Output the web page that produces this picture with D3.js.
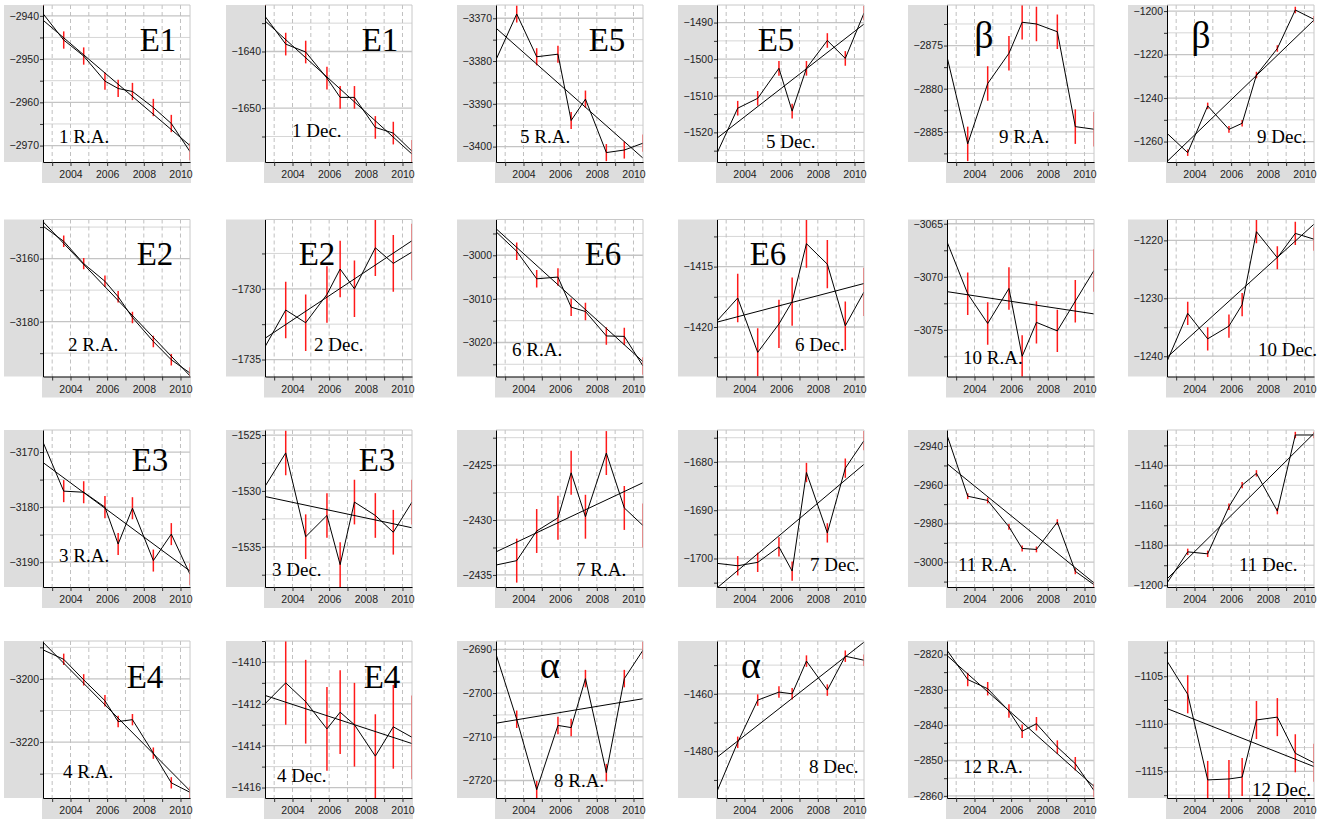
<!DOCTYPE html>
<html><head><meta charset="utf-8">
<script src="https://cdn.jsdelivr.net/npm/d3@7"></script>
<style>body{margin:0;background:#fff}</style>
</head><body>
<svg id="c" width="1334" height="820"></svg>
<script>
// ---------- DATA ----------
const epochs = [2002.5, 2003.63, 2004.72, 2005.88, 2006.6, 2007.38, 2008.52, 2009.5, 2010.52];
const yearTicks = [2003, 2004, 2005, 2006, 2007, 2008, 2009, 2010];
const yearLabels = [2004, 2006, 2008, 2010];

const panelNames = ["1 R.A.","1 Dec.","5 R.A.","5 Dec.","9 R.A.","9 Dec.",
                    "2 R.A.","2 Dec.","6 R.A.","6 Dec.","10 R.A.","10 Dec.",
                    "3 R.A.","3 Dec.","7 R.A.","7 Dec.","11 R.A.","11 Dec.",
                    "4 R.A.","4 Dec.","8 R.A.","8 Dec.","12 R.A.","12 Dec."];
const starNames = ["E1","E1","E5","E5","β","β",
                   "E2","E2","E6","E6","","",
                   "E3","E3","","","","",
                   "E4","E4","α","α","",""];

const ra1  = [-2939.5,-2945.6,-2949.3,-2955.1,-2956.8,-2957.5,-2961.2,-2964.9,-2971.4];
const dec1 = [-1633.8,-1638.7,-1640.1,-1644.7,-1648.1,-1648.1,-1653.4,-1654.4,-1657.6];
const ra5  = [-3379.7,-3369.0,-3379.0,-3378.4,-3393.9,-3388.9,-3401.4,-3400.8,-3399.2];
const dec5 = [-1525.7,-1513.4,-1510.7,-1502.5,-1514.2,-1502.5,-1494.9,-1499.8,-1487.4];
const ra9  = [-2876.3,-2886.4,-2879.4,-2875.9,-2872.3,-2872.5,-2873.4,-2884.4,-2884.7];
const dec9 = [-1256.2,-1265.1,-1243.6,-1254.4,-1251.6,-1229.4,-1217.2,-1199.5,-1203.8];
const ra2  = [-3149.7,-3154.5,-3161.6,-3167.2,-3172.1,-3178.7,-3186.3,-3192.1,-3196.3];
const dec2 = [-1734.1,-1731.5,-1732.4,-1730.4,-1728.6,-1730.0,-1727.1,-1728.2,-1727.4];
const ra6  = [-2994.6,-2999.1,-3005.4,-3005.0,-3011.9,-3012.9,-3018.5,-3018.6,-3025.4];
const dec6 = [-1419.5,-1417.6,-1422.1,-1419.75,-1417.9,-1413.1,-1414.8,-1419.9,-1417.1];
const ra10 = [-3066.7,-3071.6,-3074.4,-3071.1,-3077.5,-3074.3,-3075.1,-3072.3,-3069.4];
const dec10= [-1240.9,-1232.6,-1237.0,-1234.8,-1231.1,-1218.5,-1223.0,-1218.8,-1219.8];
const ra3  = [-3168.2,-3177.1,-3177.3,-3180.0,-3186.7,-3180.2,-3189.7,-3184.9,-3192.2];
const dec3 = [-1529.6,-1526.6,-1534.1,-1532.2,-1536.6,-1531.0,-1532.2,-1533.7,-1531.0];
const ra7  = [-2434.1,-2433.7,-2431.0,-2429.8,-2425.7,-2429.7,-2423.9,-2428.9,-2430.5];
const dec7 = [-1701.0,-1701.5,-1700.8,-1697.6,-1702.6,-1682.2,-1694.7,-1681.3,-1675.6];
const ra11 = [-2934.3,-2965.9,-2968.1,-2981.7,-2992.9,-2993.4,-2979.3,-3004.7,-3011.6];
const dec11= [-1198.9,-1183.3,-1184.3,-1160.7,-1149.9,-1144.0,-1162.9,-1124.8,-1124.8];
const ra4  = [-3190.8,-3193.8,-3200.3,-3206.9,-3213.5,-3212.9,-3223.5,-3232.9,-3235.9];
const dec4 = [-1412.0,-1411.0,-1411.9,-1413.2,-1412.4,-1413.0,-1414.5,-1413.1,-1413.6];
const ra8  = [-2691.1,-2706.0,-2722.1,-2707.4,-2707.9,-2696.7,-2718.2,-2696.7,-2690.2];
const dec8 = [-1494.0,-1476.9,-1462.2,-1459.4,-1460.0,-1448.6,-1458.7,-1446.9,-1448.3];
const ra12 = [-2818.8,-2827.1,-2829.7,-2836.0,-2841.7,-2839.6,-2846.2,-2850.9,-2858.5];
const dec12= [-1103.4,-1106.9,-1115.9,-1115.8,-1115.6,-1109.6,-1109.3,-1113.1,-1114.1];

const series = [ra1,dec1,ra5,dec5,ra9,dec9, ra2,dec2,ra6,dec6,ra10,dec10,
                ra3,dec3,ra7,dec7,ra11,dec11, ra4,dec4,ra8,dec8,ra12,dec12];

// linear fit: value at first and last epoch
const fitEnds = [
 [-2941,-2970],[-1634.6,-1658.1],[-3372.3,-3402.7],[-1521.6,-1490.4],null,[-1269.2,-1204.1],
 [-3148.3,-3197.2],[-1733.5,-1726.6],[-2993.9,-3024.4],[-1419.6,-1416.4],[-3071.4,-3073.5],[-1240.2,-1217.2],
 [-3171.9,-3191.6],[-1530.5,-1533.3],[-2432.9,-2426.6],[-1706.1,-1680.5],[-2949.1,-3010.7],[-1196.9,-1124.0],
 [-3188.4,-3235.4],[-1411.6,-1413.9],[-2706.9,-2701.3],[-1482.1,-1442.0],[-2820.3,-2857.3],[-1108.4,-1114.5]];

const errHalf = [2,2,2,2,2,1.5, 1.8,2,2,2,2,2, 2,2,2,2,1.5,1.6, 1.8,2,2,2,1.9,2];

const yDomains = [
 [-2973.8,-2937.5],[-1659.5,-1631.8],[-3403.6,-3366.9],[-1528.1,-1485.2],[-2888.5,-2870.3],[-1269.4,-1197.2],
 [-3197.4,-3147.6],[-1736.2,-1725.1],[-3027.8,-2991.8],[-1424.1,-1411.1],[-3079.4,-3064.6],[-1243.5,-1216.4],
 [-3194.5,-3166.0],[-1538.6,-1524.55],[-2436.1,-2421.8],[-1705.9,-1673.4],[-3012.8,-2931.7],[-1200.9,-1122.3],
 [-3237.7,-3188.0],[-1416.5,-1409.0],[-2724.0,-2688.1],[-1496.3,-1441.6],[-2860.6,-2816.2],[-1117.8,-1101.3]];

const yTickStep = [10,10,10,10,5,20, 20,5,10,5,5,10, 10,5,5,10,20,20, 20,2,10,20,10,5];

// ---------- LAYOUT ----------
const colLeft = [43, 265, 496, 717, 947, 1167];
const rowTop = [5, 219.5, 430, 641];
const W = 147, H = 157, YBAND = 39, XBAND = 21;
const starPos = [[115,46],[115,46],[111,46],[59,46],[37,43],[34,43],
                 [112,45],[52,45],[107,45],[51,45],[0,0],[0,0],
                 [107,41],[112,41],[0,0],[0,0],[0,0],[0,0],
                 [102,47],[117,47],[54,37],[34,37],[0,0],[0,0]];
const namePos = [[16,138],[27,132],[24,138],[49,143],[52,138],[90,138],
                 [25,131],[49,131],[16,136],[78,131],[16,144],[91,136],
                 [16,132],[7,146],[80,146],[93,141],[11,141],[72,141],
                 [20,137],[12,141],[58,146],[92,132],[16,132],[85,155]];

const svg = d3.select("#c");
const defs = svg.append("defs");
const fmt = d3.format("d");
const serif = "'Liberation Serif', 'Times New Roman', serif";

series.forEach((vals, i) => {
  const r = Math.floor(i / 6), c = i % 6;
  const L = colLeft[c], T = rowTop[r];
  const g = svg.append("g");

  g.append("rect").attr("x", L - YBAND).attr("y", T).attr("width", YBAND).attr("height", H).attr("fill", "#dddddd");
  g.append("rect").attr("x", L - 1).attr("y", T + H).attr("width", W + 2).attr("height", XBAND).attr("fill", "#dddddd");
  g.append("rect").attr("x", L).attr("y", T).attr("width", W).attr("height", H).attr("fill", "#fff");

  const x = d3.scaleLinear().domain([epochs[0], epochs[epochs.length - 1]]).range([L, L + W]);
  const y = d3.scaleLinear().domain(yDomains[i]).range([T + H, T]);

  const step = yTickStep[i], minor = step / 2;
  const [lo, hi] = yDomains[i];
  const minorVals = d3.range(Math.ceil(lo / minor - 1e-9) * minor, hi + 1e-9, minor);
  const isMajor = v => Math.abs(v / step - Math.round(v / step)) < 1e-6;

  const cid = "clip" + i;
  defs.append("clipPath").attr("id", cid).append("rect").attr("x", L).attr("y", T).attr("width", W).attr("height", H);
  const pg = g.append("g").attr("clip-path", `url(#${cid})`);

  // grid
  pg.selectAll(".hg").data(minorVals).join("line")
    .attr("x1", L).attr("x2", L + W).attr("y1", d => y(d)).attr("y2", d => y(d))
    .attr("stroke", d => isMajor(d) ? "#c4c4c4" : "#d6d6d6").attr("stroke-width", d => isMajor(d) ? 1.3 : 1);
  pg.selectAll(".vg").data(yearTicks).join("line")
    .attr("x1", d => x(d)).attr("x2", d => x(d)).attr("y1", T).attr("y2", T + H)
    .attr("stroke", "#c0c0c0").attr("stroke-width", 1).attr("stroke-dasharray", "4,3");

  // error bars
  const e = errHalf[i];
  pg.selectAll(".eb").data(vals).join("line")
    .attr("x1", (d, k) => x(epochs[k])).attr("x2", (d, k) => x(epochs[k]))
    .attr("y1", d => y(d - e)).attr("y2", d => y(d + e))
    .attr("stroke", "#ff1a1a").attr("stroke-width", 1.5);

  // fit line
  if (fitEnds[i]) {
    pg.append("line")
      .attr("x1", x(epochs[0])).attr("x2", x(epochs[epochs.length - 1]))
      .attr("y1", y(fitEnds[i][0])).attr("y2", y(fitEnds[i][1]))
      .attr("stroke", "#000").attr("stroke-width", 1);
  }
  // polyline
  pg.append("path").datum(vals)
    .attr("d", d3.line().x((d, k) => x(epochs[k])).y(d => y(d)))
    .attr("fill", "none").attr("stroke", "#000").attr("stroke-width", 1);

  // border top/right
  g.append("path").attr("d", `M${L},${T}H${L + W}V${T + H}`).attr("fill", "none").attr("stroke", "#c8c8c8");

  // axes
  const ya = g.append("g").attr("transform", `translate(${L},0)`)
    .call(d3.axisLeft(y).tickValues(minorVals).tickSize(3).tickPadding(1).tickSizeOuter(0)
      .tickFormat(d => isMajor(d) ? fmt(d) : ""));
  const xa = g.append("g").attr("transform", `translate(0,${T + H})`)
    .call(d3.axisBottom(x).tickValues(yearTicks).tickSize(4).tickPadding(5).tickSizeOuter(0)
      .tickFormat(d => yearLabels.includes(d) ? String(d) : ""));
  [ya, xa].forEach(a => {
    a.selectAll("text").attr("font-family", "'Liberation Sans', Arial, sans-serif").attr("font-size", 10.5).attr("fill", "#222");
    a.select(".domain").attr("stroke", "#000").attr("stroke-width", 1);
    a.selectAll(".tick line").attr("stroke", "#333");
  });

  // labels
  if (starNames[i]) {
    const greek = starNames[i] === "α" || starNames[i] === "β";
    g.append("text").attr("x", L + starPos[i][0]).attr("y", T + starPos[i][1])
      .attr("text-anchor", "middle").attr("font-family", serif)
      .attr("font-size", greek ? 38 : 33).attr("fill", "#000").text(starNames[i]);
  }
  g.append("text").attr("x", L + namePos[i][0]).attr("y", T + namePos[i][1])
    .attr("font-family", serif)
    .attr("font-size", 19).attr("fill", "#000").text(panelNames[i]);
});
</script>
</body></html>
